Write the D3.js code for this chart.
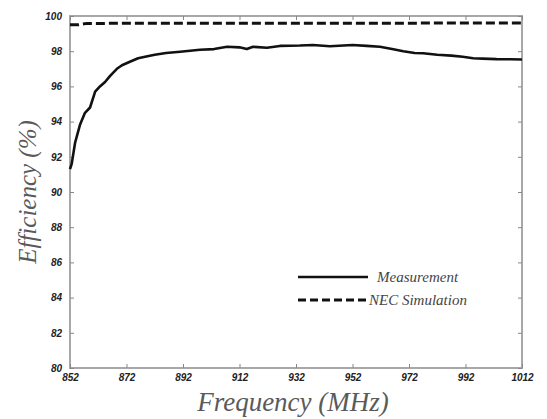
<!DOCTYPE html>
<html>
<head>
<meta charset="utf-8">
<script src="https://cdn.jsdelivr.net/npm/d3@7"></script>
<style>
  body { margin: 0; background: #fff; }
  .tick text { font-family: "Liberation Sans", Arial, sans-serif; font-style: italic; font-weight: bold; font-size: 10px; fill: #222; }
  .axtitle { font-family: "Liberation Serif", "Times New Roman", serif; font-style: italic; fill: #5a5a5a; }
  .legtext { font-family: "Liberation Serif", "Times New Roman", serif; font-style: italic; font-size: 15px; fill: #444; }
</style>
</head>
<body>
<div id="chart"></div>
<script>
let measFreq = [852, 852.6, 853.8, 855.5, 857.3, 859.1, 860.9, 862.6, 864.4, 866.2, 868.6, 870.4, 873.2, 876.1, 879, 882, 886, 891, 898, 903, 907.6, 912, 914.6, 916.8, 921.7, 926.3, 933.4, 938, 944, 952, 957, 961.7, 966, 970, 974, 977, 982, 987, 991, 994.7, 998, 1003, 1008, 1012];
let measEff  = [91.3, 91.6, 92.8, 93.8, 94.5, 94.8, 95.7, 96.0, 96.25, 96.6, 97.0, 97.2, 97.4, 97.6, 97.7, 97.8, 97.9, 97.97, 98.08, 98.12, 98.25, 98.22, 98.12, 98.25, 98.2, 98.3, 98.32, 98.35, 98.28, 98.35, 98.3, 98.25, 98.12, 98.0, 97.9, 97.88, 97.8, 97.75, 97.68, 97.6, 97.58, 97.55, 97.54, 97.53];

// NEC simulation
let simFreq = [852, 855, 858, 1012];
let simEff  = [99.5, 99.5, 99.58, 99.6];

let xTicks = [852, 872, 892, 912, 932, 952, 972, 992, 1012];
let yTicks = [80, 82, 84, 86, 88, 90, 92, 94, 96, 98, 100];

let width = 547, height = 419;
let padding = {top: 16, right: 25, bottom: 51, left: 70};
let plot_w = width - padding.left - padding.right;
let plot_h = height - padding.top - padding.bottom;

let svg = d3.select("#chart").append("svg")
  .attr("width", width)
  .attr("height", height);

let g = svg.append("g")
  .attr("transform", "translate(" + padding.left + "," + padding.top + ")");

let xScale = d3.scaleLinear().domain([852, 1012]).range([0, plot_w]);
let yScale = d3.scaleLinear().domain([80, 100]).range([plot_h, 0]);

let axisColor = "#a8a8a8";

// frame
g.append("rect")
  .attr("width", plot_w).attr("height", plot_h)
  .attr("fill", "none").attr("stroke", axisColor).attr("stroke-width", 2);

function styleAxis(sel) {
  sel.select(".domain").remove();
  sel.selectAll(".tick line").attr("stroke", "#888").attr("stroke-width", 1);
}

let xAxis = d3.axisBottom(xScale).tickValues(xTicks).tickSizeInner(-4).tickSizeOuter(0).tickPadding(6).tickFormat(d3.format("d"));
g.append("g").attr("transform", "translate(0," + plot_h + ")").call(xAxis).call(styleAxis);

let xAxisTop = d3.axisTop(xScale).tickValues(xTicks).tickSizeInner(-4).tickSizeOuter(0).tickFormat("");
g.append("g").call(xAxisTop).call(styleAxis);

let yAxis = d3.axisLeft(yScale).tickValues(yTicks).tickSizeInner(-4).tickSizeOuter(0).tickPadding(8);
g.append("g").call(yAxis).call(styleAxis);

let yAxisRight = d3.axisRight(yScale).tickValues(yTicks).tickSizeInner(-4).tickSizeOuter(0).tickFormat("");
g.append("g").attr("transform", "translate(" + plot_w + ",0)").call(yAxisRight).call(styleAxis);

// lines
let line = d3.line()
  .x(d => xScale(d[0]))
  .y(d => yScale(d[1]));

g.append("path")
  .datum(measFreq.map((f, i) => [f, measEff[i]]))
  .attr("fill", "none").attr("stroke", "#111").attr("stroke-width", 2.6)
  .attr("stroke-linejoin", "round")
  .attr("d", line);

g.append("path")
  .datum(simFreq.map((f, i) => [f, simEff[i]]))
  .attr("fill", "none").attr("stroke", "#111").attr("stroke-width", 3)
  .attr("stroke-dasharray", "9,4")
  .attr("d", line);

// legend
let leg = svg.append("g").attr("transform", "translate(298,277)");
leg.append("line").attr("x1", 0).attr("x2", 70).attr("y1", 0).attr("y2", 0)
  .attr("stroke", "#111").attr("stroke-width", 2.4);
leg.append("text").attr("class", "legtext").attr("x", 79).attr("y", 5).text("Measurement");
leg.append("line").attr("x1", 0).attr("x2", 70).attr("y1", 23).attr("y2", 23)
  .attr("stroke", "#111").attr("stroke-width", 3).attr("stroke-dasharray", "8,4");
leg.append("text").attr("class", "legtext").attr("x", 71).attr("y", 28).text("NEC Simulation");

// axis titles
svg.append("text").attr("class", "axtitle")
  .attr("x", 293).attr("y", 411)
  .attr("text-anchor", "middle").style("font-size", "27px")
  .text("Frequency (MHz)");

svg.append("text").attr("class", "axtitle")
  .attr("transform", "translate(36," + (padding.top + plot_h / 2) + ") rotate(-90)")
  .attr("text-anchor", "middle").style("font-size", "25px")
  .text("Efficiency (%)");
</script>
</body>
</html>
